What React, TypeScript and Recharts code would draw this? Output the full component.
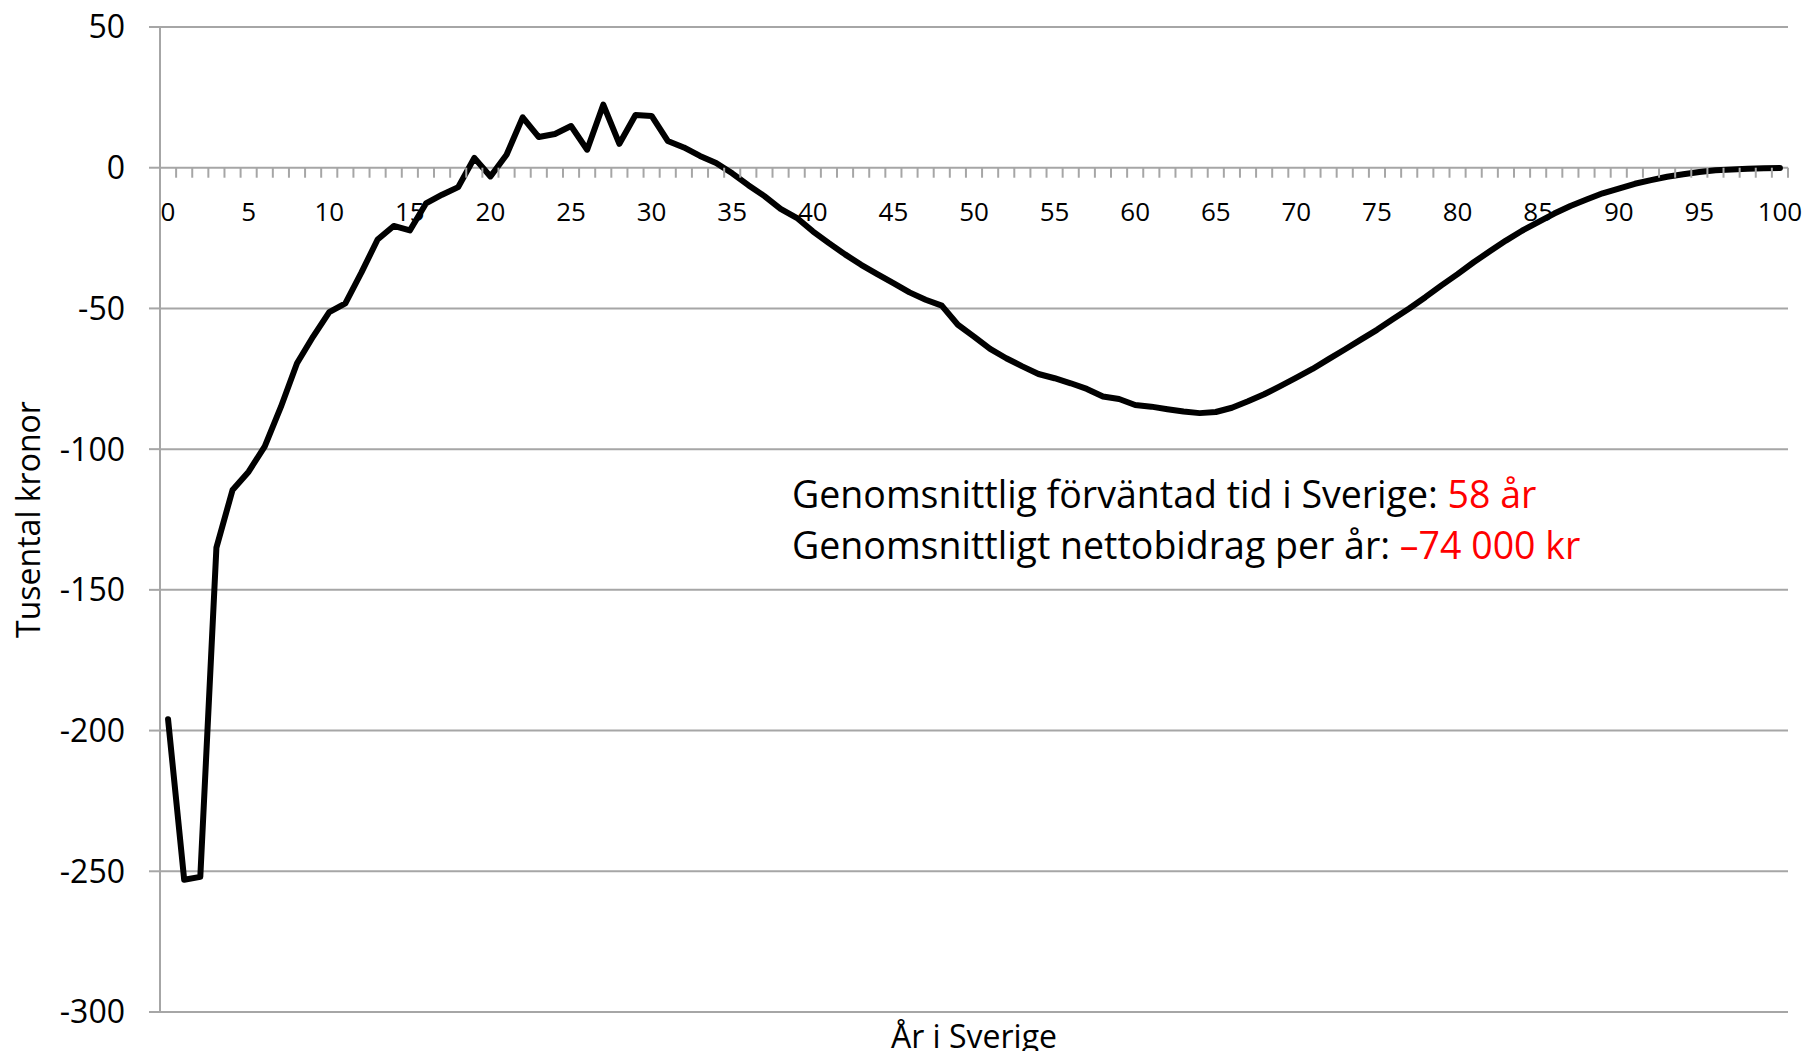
import React from 'react';
import {
  LineChart,
  Line,
  XAxis,
  YAxis,
  CartesianGrid,
  ReferenceDot,
  Customized,
} from 'recharts';

// Categories: years in Sweden
const years = [
  0, 1, 2, 3, 4, 5, 6, 7, 8, 9, 10, 11, 12, 13, 14, 15, 16, 17, 18, 19, 20,
  21, 22, 23, 24, 25, 26, 27, 28, 29, 30, 31, 32, 33, 34, 35, 36, 37, 38, 39, 40,
  41, 42, 43, 44, 45, 46, 47, 48, 49, 50, 51, 52, 53, 54, 55, 56, 57, 58, 59, 60,
  61, 62, 63, 64, 65, 66, 67, 68, 69, 70, 71, 72, 73, 74, 75, 76, 77, 78, 79, 80,
  81, 82, 83, 84, 85, 86, 87, 88, 89, 90, 91, 92, 93, 94, 95, 96, 97, 98, 99, 100,
];

// Net contribution, thousand SEK
const netContribution = [
  -196, -253, -252, -135, -114.5, -108, -99, -85, -69.5, -60, -51.3,
  -48.2, -37.2, -25.5, -20.7, -22.3, -12.7, -9.6, -6.9, 3.5, -3.1,
  4.6, 17.9, 10.9, 12, 14.8, 6.4, 22.4, 8.5, 18.7, 18.4,
  9.5, 7.2, 4.2, 1.7, -2, -6.2, -10.1, -14.6, -17.8, -22.6,
  -26.8, -30.8, -34.5, -37.8, -41, -44.3, -46.9, -49, -55.8, -60,
  -64.4, -67.7, -70.6, -73.3, -74.8, -76.6, -78.6, -81.3, -82.2, -84.3,
  -84.9, -85.8, -86.6, -87.2, -86.8, -85.3, -83, -80.5, -77.6, -74.6,
  -71.5, -68, -64.6, -61.1, -57.6, -53.8, -50, -46, -41.8, -37.8,
  -33.6, -29.7, -25.9, -22.4, -19.3, -16.3, -13.6, -11.3, -9.1, -7.4,
  -5.7, -4.4, -3.2, -2.3, -1.5, -0.9, -0.6, -0.35, -0.2, -0.1,
];

const yTicks = [50, 0, -50, -100, -150, -200, -250, -300];
const xTickLabels = [0, 5, 10, 15, 20, 25, 30, 35, 40, 45, 50, 55, 60, 65, 70, 75, 80, 85, 90, 95, 100];
// minor tick marks sit on the category boundaries
const xMinorTicks = years.map((y) => y + 0.5);

const yAxisTitle = 'Tusental kronor';
const xAxisTitle = 'År i Sverige';
const noteLine1 = 'Genomsnittlig förväntad tid i Sverige: ';
const noteValue1 = '58 år';
const noteLine2 = 'Genomsnittligt nettobidrag per år: ';
const noteValue2 = '–74 000 kr';

const data = years.map((year, i) => ({ year, value: netContribution[i] }));

const FONT = "'Open Sans', 'Noto Sans', 'DejaVu Sans', sans-serif";
const GRID = '#A6A6A6';

const MinorTick = (props: any) => (
  <line
    x1={props.cx}
    y1={props.cy}
    x2={props.cx}
    y2={props.cy + 10}
    stroke={GRID}
    strokeWidth={2}
  />
);

const makeTickLabel = (label: number) => (props: any) => (
  <text
    x={props.cx}
    y={props.cy + 53}
    textAnchor="middle"
    fontSize={26}
    fontFamily={FONT}
    fill="#000"
  >
    {label}
  </text>
);

const YTitle = (props: any) => {
  const vb = props.viewBox || {};
  const x = 40;
  const y = vb.y + vb.height / 2;
  return (
    <text
      x={x}
      y={y}
      transform={`rotate(-90, ${x}, ${y})`}
      textAnchor="middle"
      fontSize={32}
      fontFamily={FONT}
      fill="#000"
    >
      {yAxisTitle}
    </text>
  );
};

const XTitle = (props: any) => {
  const vb = props.viewBox || {};
  return (
    <text
      x={vb.x + vb.width / 2}
      y={vb.y + 35.5}
      textAnchor="middle"
      fontSize={32}
      fontFamily={FONT}
      fill="#000"
    >
      {xAxisTitle}
    </text>
  );
};

const Annotation = () => (
  <g fontFamily={FONT} fontSize={37.5} fill="#000">
    <text x={792} y={508}>
      {noteLine1}
      <tspan fill="#FF0000">{noteValue1}</tspan>
    </text>
    <text x={792} y={559}>
      {noteLine2}
      <tspan fill="#FF0000">{noteValue2}</tspan>
    </text>
  </g>
);

export default function App() {
  return (
    <div style={{ margin: -8, width: 1811, height: 1059, background: '#fff' }}>
      <LineChart
        width={1811}
        height={1059}
        data={data}
        margin={{ top: 27, right: 23, bottom: 0, left: 0 }}
      >
        <CartesianGrid vertical={false} stroke={GRID} strokeWidth={2} />
        <XAxis
          type="number"
          dataKey="year"
          domain={[-0.5, 100.5]}
          allowDataOverflow
          height={47}
          tick={false}
          tickLine={false}
          axisLine={false}
          label={{ content: XTitle }}
        />
        <YAxis
          type="number"
          domain={[-300, 50]}
          ticks={yTicks}
          interval={0}
          allowDataOverflow
          width={160}
          tickSize={11}
          tickMargin={24}
          axisLine={{ stroke: GRID, strokeWidth: 2 }}
          tickLine={{ stroke: GRID, strokeWidth: 2 }}
          tick={{ fill: '#000', fontSize: 32, fontFamily: FONT }}
          label={{ content: YTitle }}
        />
        {xMinorTicks.map((t) => (
          <ReferenceDot key={`m${t}`} x={t} y={0} r={0} ifOverflow="visible" shape={MinorTick} />
        ))}
        {xTickLabels.map((k) => (
          <ReferenceDot key={`l${k}`} x={k} y={0} r={0} ifOverflow="visible" shape={makeTickLabel(k)} />
        ))}
        <Line
          type="linear"
          dataKey="value"
          stroke="#000"
          strokeWidth={6}
          strokeLinejoin="round"
          strokeLinecap="round"
          dot={false}
          activeDot={false}
          isAnimationActive={false}
        />
        <Customized component={Annotation} />
      </LineChart>
    </div>
  );
}
